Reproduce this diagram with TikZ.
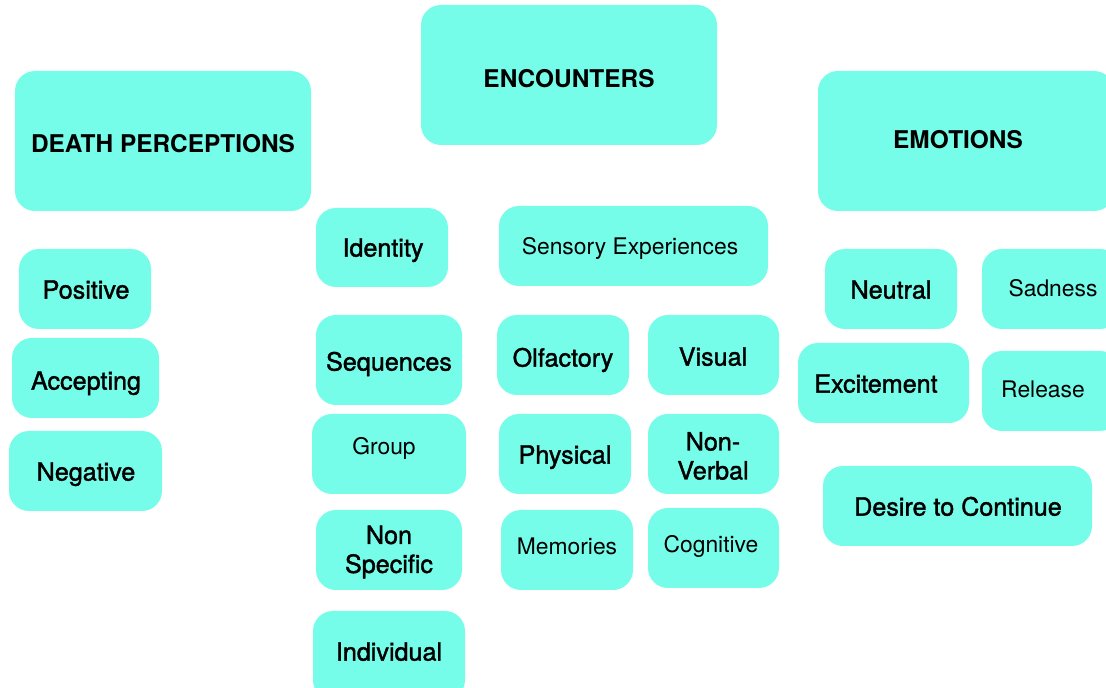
\documentclass[tikz,border=0pt]{standalone}
\usepackage{fontspec}
\setmainfont{TeX Gyre Heros}
\newfontfamily\mediumfont[FakeBold=1.5]{TeX Gyre Heros}
\definecolor{aquamint}{RGB}{118, 253, 234}

\begin{document}
\begin{tikzpicture}[x=0.02cm, y=-0.02cm,
    tile/.style={fill=aquamint, rounded corners=0.4cm},
    head/.style={anchor=mid, yshift=-0.1cm, font=\fontsize{13.9}{16}\selectfont\bfseries},
    plain/.style={anchor=mid, yshift=-0.1cm, font=\fontsize{13}{15}\selectfont},
    medium/.style={anchor=mid, yshift=-0.1cm, font=\fontsize{14.3}{16}\selectfont\mediumfont},
    twoline/.style={align=center, font=\fontsize{14.3}{16.5}\selectfont\mediumfont}]
        \useasboundingbox (0,0) rectangle (1106,688);
        \clip (0,0) rectangle (1106,688);
        % main headings
            \fill[tile] ( 15, 71) rectangle ( 311,211);
            \fill[tile] (421,  5) rectangle ( 717,145);
            \fill[tile] (818, 71) rectangle (1114,211);
            \node[head] (death)      at (163,143) {DEATH PERCEPTIONS};
            \node[head] (encounters) at (569, 78) {ENCOUNTERS};
            \node[head] (emotions)   at (958,139) {EMOTIONS};
        % death perceptions
            \fill[tile] ( 19,249) rectangle (151,329);
            \fill[tile] ( 12,338) rectangle (159,418);
            \fill[tile] (  9,431) rectangle (162,511);
            \node[medium] (positive)  at (86,289) {Positive};
            \node[medium] (accepting) at (86,380) {Accepting};
            \node[medium] (negative)  at (86,471) {Negative};
        % encounters
            \fill[tile] (316,208) rectangle (448,287);
            \fill[tile] (499,206) rectangle (768,286);
            \fill[tile] (316,315) rectangle (462,405);
            \fill[tile] (497,315) rectangle (629,395);
            \fill[tile] (648,315) rectangle (779,395);
            \fill[tile] (312,414) rectangle (466,494);
            \fill[tile] (499,414) rectangle (631,494);
            \fill[tile] (648,414) rectangle (779,494);
            \fill[tile] (316,510) rectangle (462,590);
            \fill[tile] (501,510) rectangle (633,590);
            \fill[tile] (648,508) rectangle (779,588);
            \fill[tile] (313,611) rectangle (465,700);
            \node[medium]  (identity)   at (383,247) {Identity};
            \node[plain]   (sensory)    at (630,245) {Sensory Experiences};
            \node[medium]  (sequences)  at (389,361) {Sequences};
            \node[medium]  (olfactory)  at (563,357) {Olfactory};
            \node[medium]  (visual)     at (713,356) {Visual};
            \node[plain]   (group)      at (384,445) {Group};
            \node[medium]  (physical)   at (565,454) {Physical};
            \node[twoline] (nonverbal)  at (713,456) {Non-\\Verbal};
            \node[twoline] (nonspecific)at (389,552) {Non\\Specific};
            \node[plain]   (memories)   at (567,545) {Memories};
            \node[plain]   (cognitive)  at (711,543) {Cognitive};
            \node[medium]  (individual) at (389,651) {Individual};
        % emotions
            \fill[tile] (825,249) rectangle ( 957,329);
            \fill[tile] (982,249) rectangle (1120,329);
            \fill[tile] (798,343) rectangle ( 969,423);
            \fill[tile] (982,351) rectangle (1120,431);
            \fill[tile] (823,466) rectangle (1092,546);
            \node[medium] (neutral)    at ( 891,289) {Neutral};
            \node[plain]  (sadness)    at (1053,287) {Sadness};
            \node[medium] (excitement) at ( 876,383) {Excitement};
            \node[plain]  (release)    at (1043,388) {Release};
            \node[medium] (desire)     at ( 958,506) {Desire to Continue};
        \end{tikzpicture}
\end{document}
